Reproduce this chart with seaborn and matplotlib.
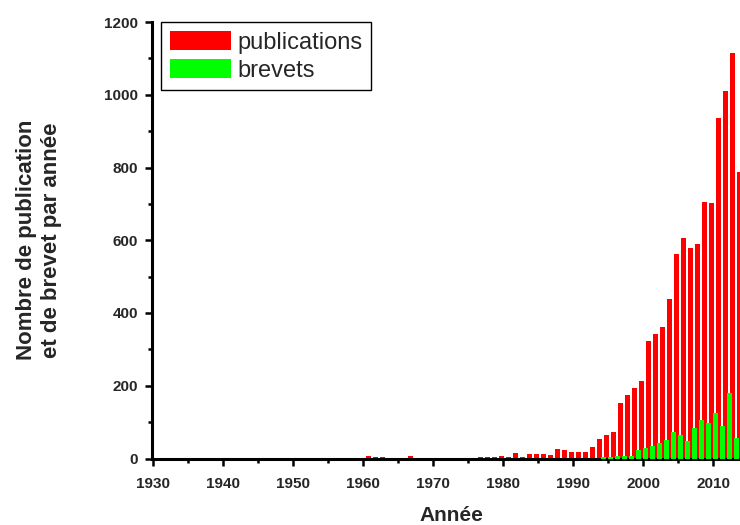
import numpy as np
import matplotlib
matplotlib.use('Agg')
import matplotlib.pyplot as plt
import seaborn as sns

# publications per year, 1930-2014
pub_years = list(range(1930, 2015))
publications = [
    0, 0, 0, 0, 0, 0, 0, 0, 0, 0,          # 1930-1939
    0, 0, 0, 0, 0, 0, 0, 0, 0, 1,          # 1940-1949
    0, 0, 2, 0, 0, 0, 0, 0, 1, 1,          # 1950-1959
    2, 6, 3, 4, 2, 2, 0, 6, 2, 1,          # 1960-1969
    0, 0, 1, 0, 1, 0, 1, 4, 5, 3,          # 1970-1979
    8, 4, 14, 4, 11, 11, 13, 10, 25, 22,   # 1980-1989
    18, 19, 19, 32, 54, 65, 74, 152, 175, 194,      # 1990-1999
    214, 324, 342, 362, 439, 563, 607, 579, 590, 706,  # 2000-2009
    703, 936, 1009, 1114, 788,             # 2010-2014
]

# brevets (patents) per year, 1994-2013
brev_years = list(range(1994, 2014))
brevets = [4, 3, 7, 6, 8, 22, 30, 33, 43, 52,
           73, 64, 47, 85, 107, 97, 124, 89, 181, 55]

sns.set_style('ticks')
plt.rcParams['font.family'] = ['Liberation Sans', 'DejaVu Sans']

fig = plt.figure(figsize=(7.4, 5.25), dpi=100)
ax = fig.add_axes([152 / 740, 1 - 458.5 / 525, (751 - 152) / 740, (458.5 - 22) / 525])

# red bars sit a bit left of the year, green a bit right (overlapping)
sns.barplot(x=np.array(pub_years) - 0.25, y=publications, native_scale=True,
            width=0.75, color='#ff0000', saturation=1, errorbar=None,
            linewidth=0, label='publications', ax=ax, zorder=2)
sns.barplot(x=np.array(brev_years) + 0.35, y=brevets, native_scale=True,
            width=0.75, color='#00ff00', saturation=1, errorbar=None,
            linewidth=0, label='brevets', ax=ax, zorder=3)

ax.set_xlim(1929.8, 2015.4)
ax.set_ylim(0, 1200)
ax.set_xticks(range(1930, 2020, 10))
ax.set_xticks(range(1935, 2016, 10), minor=True)
ax.set_yticks(range(0, 1201, 200))
ax.set_yticks(range(100, 1200, 200), minor=True)

sns.despine(ax=ax)
for s in ['left', 'bottom']:
    ax.spines[s].set_linewidth(2.2)
    ax.spines[s].set_color('black')

ax.tick_params(which='major', direction='out', length=5, width=1.8, color='black', pad=5)
ax.tick_params(which='minor', direction='out', length=3, width=1.8, color='black')
ax.tick_params(axis='x', which='major', pad=8)
for lab in ax.get_xticklabels() + ax.get_yticklabels():
    lab.set_fontsize(11)
    lab.set_fontweight('bold')

ax.set_xlabel('Année', fontsize=15, fontweight='bold', labelpad=11)
ax.set_ylabel('Nombre de publication\net de brevet par année', fontsize=16,
              fontweight='bold', labelpad=30, linespacing=1.25)

leg = ax.legend(loc='upper left', bbox_to_anchor=(160.7 / 740, 1 - 21.7 / 525),
                bbox_transform=fig.transFigure, borderaxespad=0, fontsize=17,
                frameon=True, fancybox=False, edgecolor='black', framealpha=1,
                handlelength=2.58, handleheight=0.9, handletextpad=0.28,
                labelspacing=0.21, borderpad=0.38)
leg.get_frame().set_linewidth(1.0)

fig.savefig('out.png', dpi=100)
